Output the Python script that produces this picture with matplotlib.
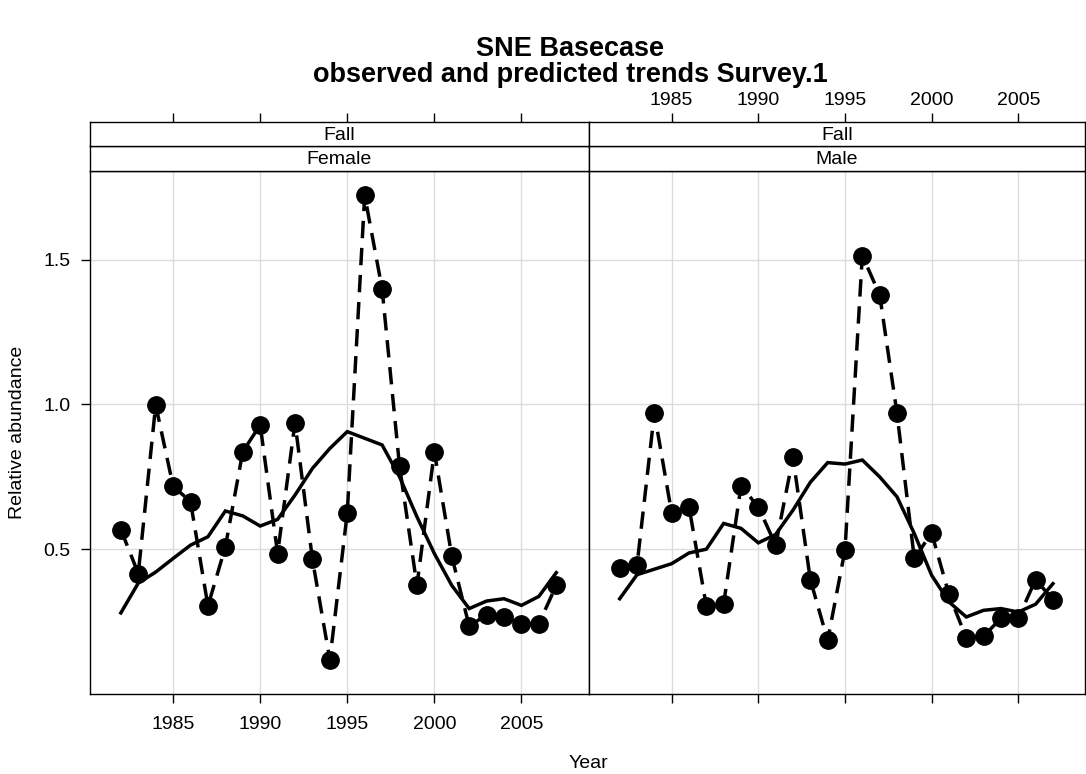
import matplotlib.pyplot as plt

plt.rcParams['font.family'] = ['Liberation Sans', 'DejaVu Sans']

# survey years
years = list(range(1982, 2008))

# observed (dashed + points) and predicted (solid) relative abundance
female_obs = [0.568, 0.416, 0.998, 0.718, 0.664, 0.304, 0.508, 0.837, 0.929,
              0.485, 0.937, 0.465, 0.118, 0.626, 1.722, 1.399, 0.787, 0.375,
              0.837, 0.476, 0.234, 0.274, 0.266, 0.243, 0.243, 0.375]
female_pred = [0.280, 0.383, 0.421, 0.468, 0.514, 0.543, 0.632, 0.615, 0.580,
               0.603, 0.687, 0.779, 0.848, 0.906, 0.883, 0.860, 0.750, 0.612,
               0.485, 0.375, 0.295, 0.321, 0.329, 0.306, 0.337, 0.419]
male_obs = [0.435, 0.445, 0.970, 0.624, 0.646, 0.304, 0.312, 0.718, 0.646,
            0.514, 0.817, 0.395, 0.185, 0.497, 1.514, 1.379, 0.970, 0.468,
            0.556, 0.344, 0.194, 0.199, 0.262, 0.262, 0.395, 0.326]
male_pred = [0.329, 0.412, 0.431, 0.450, 0.487, 0.500, 0.589, 0.572, 0.522,
             0.551, 0.635, 0.731, 0.799, 0.794, 0.808, 0.750, 0.681, 0.554,
             0.410, 0.318, 0.266, 0.289, 0.295, 0.283, 0.310, 0.381]

panel_labels = ['Female', 'Male']
season_label = 'Fall'
x_ticks = [1985, 1990, 1995, 2000, 2005]
y_ticks = [0.5, 1.0, 1.5]

W, H = 1086, 774
XLIM = (1980.2, 2008.85)
YLIM = (0.0, 1.806)
FS = 14


def px_box(x0, y0, x1, y1):
    # pixel box (from top-left) -> figure fraction rect
    return [x0 / W, 1 - y1 / H, (x1 - x0) / W, (y1 - y0) / H]


fig = plt.figure(figsize=(W / 100, H / 100), dpi=100)

panels = [
    (89.5, 588.5, female_obs, female_pred, panel_labels[0]),
    (588.5, 1085, male_obs, male_pred, panel_labels[1]),
]

for i, (x0, x1, obs, pred, lab) in enumerate(panels):
    ax = fig.add_axes(px_box(x0, 171, x1, 694))
    ax.set_xlim(XLIM)
    ax.set_ylim(YLIM)
    ax.set_xticks(x_ticks)
    ax.set_yticks(y_ticks)
    ax.grid(True, color='#dcdcdc', lw=1)
    ax.set_axisbelow(True)
    ax.plot(years, pred, color='black', lw=2.5, solid_joinstyle='miter')
    ax.plot(years, obs, color='black', lw=2.5, ls=(0, (5, 2.8)),
            marker='o', ms=12.5)
    ax.tick_params(direction='out', length=6.5, width=1, labelsize=FS,
                   pad=9)
    ax.tick_params(axis='y', pad=7)
    if i == 0:
        ax.set_yticklabels(['0.5', '1.0', '1.5'])
    else:
        ax.tick_params(axis='x', labelbottom=False)
        ax.tick_params(axis='y', left=False, labelleft=False)
    for sp in ax.spines.values():
        sp.set_linewidth(1)

    # strips: sex (lower) and season (upper)
    s2 = fig.add_axes(px_box(x0, 146, x1, 171))
    s2.set_xticks([])
    s2.set_yticks([])
    s2.text(0.5, 0.45, lab, transform=s2.transAxes, ha='center',
            va='center', fontsize=FS)
    s1 = fig.add_axes(px_box(x0, 122, x1, 146))
    s1.set_xlim(XLIM)
    s1.set_yticks([])
    s1.set_xticks(x_ticks)
    s1.xaxis.set_ticks_position('top')
    s1.tick_params(axis='x', direction='out', length=6.5, width=1,
                   labelsize=FS, pad=3, labeltop=(i == 1),
                   labelbottom=False, bottom=False)
    s1.text(0.5, 0.45, season_label, transform=s1.transAxes, ha='center',
            va='center', fontsize=FS)
    for s in (s1, s2):
        for sp in s.spines.values():
            sp.set_linewidth(1)

fig.text(570 / W, 1 - 62 / H, 'SNE Basecase\nobserved and predicted trends Survey.1',
         ha='center', va='center', fontsize=19.5, fontweight='bold',
         linespacing=1.0)
fig.text(588 / W, 1 - 763 / H, 'Year', ha='center', va='center', fontsize=FS)
fig.text(18 / W, 1 - 432 / H, 'Relative abundance', ha='center', va='center',
         rotation=90, fontsize=FS)

fig.savefig('out.png', dpi=100)
